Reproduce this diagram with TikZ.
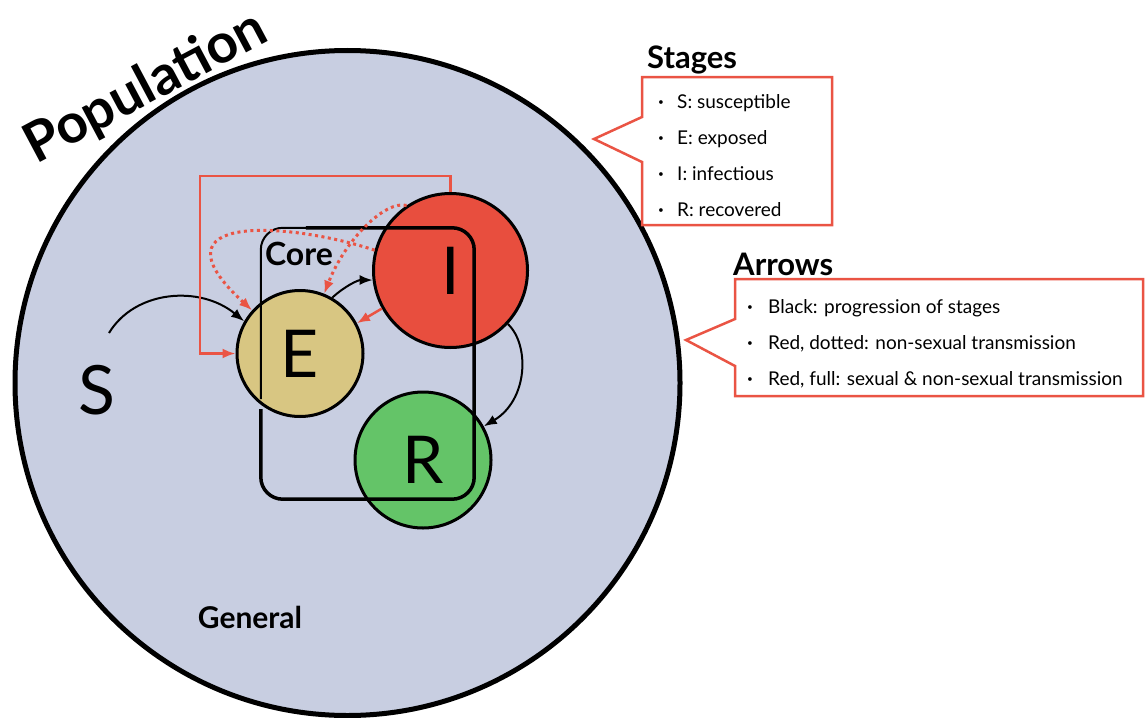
\documentclass[tikz,border=0pt]{standalone}
\usepackage{fontspec}
\setmainfont{Lato}
\usetikzlibrary{arrows.meta}
\definecolor{popfill}{RGB}{200,206,225}
\definecolor{redc}{RGB}{234,84,68}
\definecolor{efill}{RGB}{216,198,130}
\definecolor{ifill}{RGB}{232,78,62}
\definecolor{rfill}{RGB}{100,196,104}
\tikzset{
  stagecirc/.style={circle, draw=black, line width=3pt, inner sep=0pt, font=\fontsize{66}{66}\selectfont},
  blk/.style={-{Latex[length=13pt,width=10pt]}, line width=2pt, black},
  redsolid/.style={-{Latex[length=13pt,width=10pt]}, line width=2.5pt, redc, line join=miter},
  reddots/.style={-{Latex[length=13pt,width=10pt]}, line width=3pt, redc, dash pattern=on 3pt off 3.5pt},
  callout/.style={draw=redc, line width=2.5pt, fill=white, line join=miter},
  boxtitle/.style={anchor=base west, inner sep=0pt, font=\bfseries\fontsize{31}{31}\selectfont},
  itemtext/.style={anchor=base west, inner sep=0pt, font=\fontsize{19}{19}\selectfont},
  bultext/.style={anchor=base, inner sep=0pt, font=\fontsize{10}{10}\selectfont, yshift=2.5pt},
}
\begin{document}
\begin{tikzpicture}[x=1pt,y=-1pt]
\useasboundingbox (0,0) rectangle (1145,717);
% population
\node[circle, draw=black, line width=5pt, fill=popfill, minimum size=665pt, inner sep=0pt] (pop) at (347.5,383) {};
\node[font=\bfseries\fontsize{55}{55}\selectfont, rotate=28] (poptitle) at (146,88) {Population};
\node[font=\bfseries\fontsize{30}{30}\selectfont] (general) at (250,617) {General};
% stages
\node[font=\fontsize{68}{68}\selectfont] (S) at (97,390) {S};
\node[stagecirc, fill=efill, minimum size=126pt] (E) at (300,353.5) {E};
\node[stagecirc, fill=ifill, minimum size=154pt] (I) at (450.5,270.5) {I};
\node[stagecirc, fill=rfill, minimum size=136pt] (R) at (423,460) {R};
% core
\node[minimum width=213pt, minimum height=271pt] (core) at (367.5,363.5) {};
\draw[line width=2pt, rounded corners=22pt] ([xshift=60pt]core.north west) -- (core.north west) -- ([yshift=100pt]core.south west);
\draw[line width=3.5pt, rounded corners=22pt] ([xshift=45pt]core.north west) -- (core.north east) -- (core.south east) -- (core.south west) -- ([yshift=90pt]core.south west);
\node[font=\bfseries\fontsize{32}{32}\selectfont] (corelabel) at (299,254) {Core};
% arrows
\draw[blk] ([shift={(12,-57)}]S.center) .. controls (135,290) and (200,285) .. (E.150);
\draw[blk] (E.60) .. controls (345,286) and (358,280) .. (I.187);
\draw[blk] (I.-43) .. controls (530,345) and (528,400) .. (R.29);
\draw[redsolid] (I.209) -- (E.28);
\coordinate (loopTL) at (200,176);
\draw[redsolid] (I.north) |- (loopTL) |- (E.west);
\draw[reddots] (I.165) .. controls (290,222) and (145,212) .. (E.138);
\draw[reddots] (I.124) .. controls (385,200) and (345,240) .. (E.68);
% stages callout
\draw[callout] (642,77) -- (832,77) -- (832,225) -- (642,225) -- (642,162) -- (594,139) -- (642,117) -- cycle;
\node[boxtitle] (stagestitle) at (647,68) {Stages};
\node[bultext] (b1) at (661,108) {\textbullet};
\node[itemtext] (t1) at (677,108) {S: susceptible};
\node[bultext] (b2) at (661,144) {\textbullet};
\node[itemtext] (t2) at (677,144) {E: exposed};
\node[bultext] (b3) at (661,180) {\textbullet};
\node[itemtext] (t3) at (677,180) {I: infectious};
\node[bultext] (b4) at (661,216) {\textbullet};
\node[itemtext] (t4) at (677,216) {R: recovered};
% arrows callout
\draw[callout] (735,279) -- (1143,279) -- (1143,396) -- (735,396) -- (735,366) -- (686,340) -- (735,319) -- cycle;
\node[boxtitle] (arrowstitle) at (733,275) {Arrows};
\node[bultext] (a1b) at (750,313) {\textbullet};
\node[itemtext] (a1) at (768,313) {Black: progression of stages};
\node[bultext] (a2b) at (750,349) {\textbullet};
\node[itemtext] (a2) at (768,349) {Red, dotted: non-sexual transmission};
\node[bultext] (a3b) at (750,385) {\textbullet};
\node[itemtext] (a3) at (768,385) {Red, full: sexual \& non-sexual transmission};
\end{tikzpicture}
\end{document}
